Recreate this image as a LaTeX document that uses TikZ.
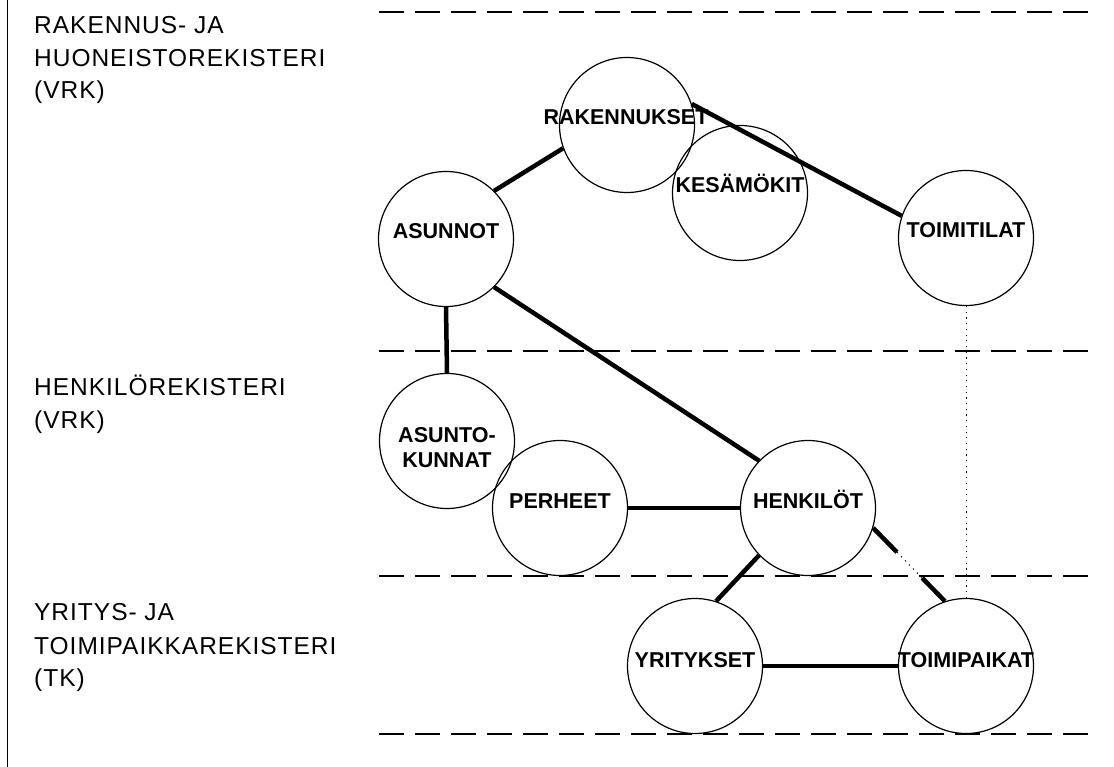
\documentclass[tikz,border=0pt]{standalone}
\usepackage{fontspec}
\setmainfont{Liberation Sans}
\newfontfamily\lblfont{Liberation Sans}[LetterSpace=4]
\begin{document}
\begin{tikzpicture}[x=1pt,y=-1pt,
  reg/.style={circle,draw,line width=1.2pt,minimum size=135pt,inner sep=0pt},
  ctext/.style={anchor=base,inner sep=0pt,font=\fontsize{21.5}{25}\selectfont\bfseries},
  ltext/.style={anchor=base west,inner sep=0pt,font=\lblfont\fontsize{24.5}{28}\selectfont},
  conn/.style={line width=4.5pt},
  sep/.style={line width=1.6pt,dash pattern=on 25pt off 11pt},
  dotln/.style={line width=1pt,dash pattern=on 1.2pt off 4.5pt},
]
\useasboundingbox (0,0) rectangle (1114,767);
% left border line
\draw[line width=1.5pt] (7.5,0) -- (7.5,767);
% separators
\foreach \yy in {12,351,576,734} {
  \draw[sep] (379,\yy) -- (1090,\yy);
}
% left labels
\node[ltext] (la1) at (34,34) {RAKENNUS- JA};
\node[ltext] (la2) at (34,67) {HUONEISTOREKISTERI};
\node[ltext] (la3) at (34,99) {(VRK)};
\node[ltext] (lb1) at (34,395) {HENKILÖREKISTERI};
\node[ltext] (lb2) at (34,428) {(VRK)};
\node[ltext] (lc1) at (34,620) {YRITYS- JA};
\node[ltext] (lc2) at (34,654) {TOIMIPAIKKAREKISTERI};
\node[ltext] (lc3) at (34,686) {(TK)};
% circles
\node[reg] (rak) at (627,125) {};
\node[reg] (kes) at (740,193) {};
\node[reg] (tilat) at (966,238) {};
\node[reg] (asun) at (446,239) {};
\node[reg] (ak) at (447,441) {};
\node[reg] (perh) at (560,508) {};
\node[reg] (henk) at (808,508) {};
\node[reg] (yrit) at (695,666) {};
\node[reg] (paik) at (966,666) {};
% circle texts
\node[ctext] (trak) at (626,125) {RAKENNUKSET};
\node[ctext] (tkes) at (740,193) {KESÄMÖKIT};
\node[ctext] (ttilat) at (966,238) {TOIMITILAT};
\node[ctext] (tasun) at (446,239) {ASUNNOT};
\node[ctext] (tak1) at (447,442) {ASUNTO-};
\node[ctext] (tak2) at (447,467) {KUNNAT};
\node[ctext] (tperh) at (560,508) {PERHEET};
\node[ctext] (thenk) at (808,508) {HENKILÖT};
\node[ctext] (tyrit) at (695,667) {YRITYKSET};
\node[ctext] (tpaik) at (966,667) {TOIMIPAIKAT};
% connectors
\draw[conn] (asun.45) -- (rak.200);
\draw[conn] (rak.18) -- (tilat.161);
\draw[conn] (asun.315) -- (henk.136);
\draw[conn] (asun.south) -- (ak.north);
\draw[conn] (perh.east) -- (henk.west);
\draw[conn] (henk.224) -- (yrit.72);
\draw[conn] (yrit.east) -- (paik.west);
\draw[dotln] (henk.343) -- (paik.108);
\draw[conn,dash pattern=on 34pt off 36pt] (henk.343) -- (paik.108);
\draw[dotln] (tilat.south) -- (paik.north);
\end{tikzpicture}
\end{document}
